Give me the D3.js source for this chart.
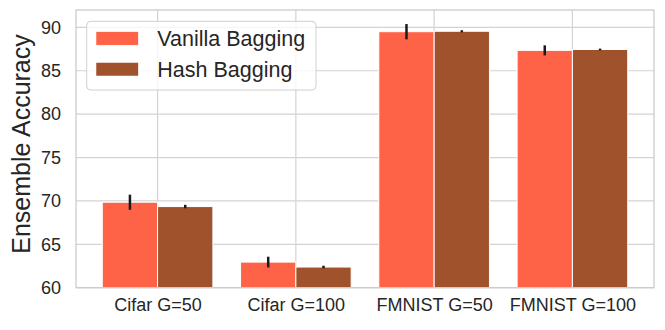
<!DOCTYPE html>
<html>
<head>
<meta charset="utf-8">
<script src="https://cdn.jsdelivr.net/npm/d3@7"></script>
<style>
  html, body { margin: 0; padding: 0; background: #fff; }
  svg { display: block; }
  text { font-family: "Liberation Sans", Arial, sans-serif; fill: #262626; }
</style>
</head>
<body>
<svg id="chart" width="665" height="330"></svg>
<script>
const categories = ["Cifar G=50", "Cifar G=100", "FMNIST G=50", "FMNIST G=100"];
const seriesNames = ["Vanilla Bagging", "Hash Bagging"];
const vanilla = [69.85, 62.95, 89.5, 87.35];
const vanillaErr = [0.87, 0.62, 0.88, 0.58];
const hash = [69.35, 62.38, 89.55, 87.45];
const hashErr = [0.2, 0.15, 0.12, 0.1];
const yTicks = [60, 65, 70, 75, 80, 85, 90];
const colors = ["#FF6347", "#A0522D"];

const svg = d3.select("#chart");
const L = 76, R = 654, T = 10, B = 287.7;

const x = d3.scaleLinear().domain([-0.59, 3.59]).range([L, R]);
const y = d3.scaleLinear().domain([60, 92]).range([B, T]);
const barW = 0.4;

// grid
const grid = svg.append("g");
grid.selectAll("line.h").data(yTicks).enter().append("line")
  .attr("x1", L).attr("x2", R)
  .attr("y1", d => y(d)).attr("y2", d => y(d))
  .attr("stroke", "#d3d3d3").attr("stroke-width", 1.2);
grid.selectAll("line.v").data(categories).enter().append("line")
  .attr("x1", (d, i) => x(i)).attr("x2", (d, i) => x(i))
  .attr("y1", T).attr("y2", B)
  .attr("stroke", "#d3d3d3").attr("stroke-width", 1.2);

// bars
const series = [
  { vals: vanilla, err: vanillaErr, off: -barW },
  { vals: hash, err: hashErr, off: 0 }
];
series.forEach((s, si) => {
  const g = svg.append("g");
  g.selectAll("rect").data(s.vals).enter().append("rect")
    .attr("x", (d, i) => x(i + s.off))
    .attr("width", x(barW) - x(0))
    .attr("y", d => y(d))
    .attr("height", d => y(60) - y(d))
    .attr("fill", colors[si])
    .attr("stroke", "#fff").attr("stroke-width", 1);
  g.selectAll("line").data(s.vals).enter().append("line")
    .attr("x1", (d, i) => x(i + s.off + barW / 2))
    .attr("x2", (d, i) => x(i + s.off + barW / 2))
    .attr("y1", (d, i) => y(d + s.err[i]))
    .attr("y2", (d, i) => y(d - s.err[i]))
    .attr("stroke", "#1a1a1a").attr("stroke-width", 2.5);
});

// frame
svg.append("rect").attr("x", L).attr("y", T).attr("width", R - L).attr("height", B - T)
  .attr("fill", "none").attr("stroke", "#cccccc").attr("stroke-width", 1.3);

// y axis
const yAxis = d3.axisLeft(y).tickValues(yTicks).tickSize(0).tickPadding(15);
const ya = svg.append("g").attr("transform", `translate(${L},0)`).call(yAxis);
ya.select(".domain").remove();
ya.selectAll("text").attr("font-size", 18).style("fill", "#262626")
  .attr("font-family", "Liberation Sans, Arial, sans-serif");

// x axis
const xAxis = d3.axisBottom(x).tickValues(d3.range(categories.length))
  .tickFormat(i => categories[i]).tickSize(0).tickPadding(11);
const xa = svg.append("g").attr("transform", `translate(0,${B})`).call(xAxis);
xa.select(".domain").remove();
xa.selectAll("text").attr("font-size", 18).style("fill", "#262626")
  .attr("font-family", "Liberation Sans, Arial, sans-serif");

// y label
svg.append("text")
  .attr("transform", `translate(30,144) rotate(-90)`)
  .attr("text-anchor", "middle")
  .attr("font-size", 25)
  .text("Ensemble Accuracy");

// legend
const lg = svg.append("g");
lg.append("rect").attr("x", 86.7).attr("y", 21.3).attr("width", 229.3).attr("height", 68.7)
  .attr("rx", 4).attr("fill", "#fff").attr("fill-opacity", 0.8)
  .attr("stroke", "#d0d0d0").attr("stroke-width", 1);
seriesNames.forEach((n, i) => {
  lg.append("rect").attr("x", 96).attr("y", 31.7 + i * 30.8).attr("width", 42.3).attr("height", 13.5)
    .attr("fill", colors[i]).attr("stroke", "#fff").attr("stroke-width", 0.5);
  lg.append("text").attr("x", 157.3).attr("y", 45.8 + i * 31.5)
    .attr("font-size", 21.5).text(n);
});
</script>
</body>
</html>
